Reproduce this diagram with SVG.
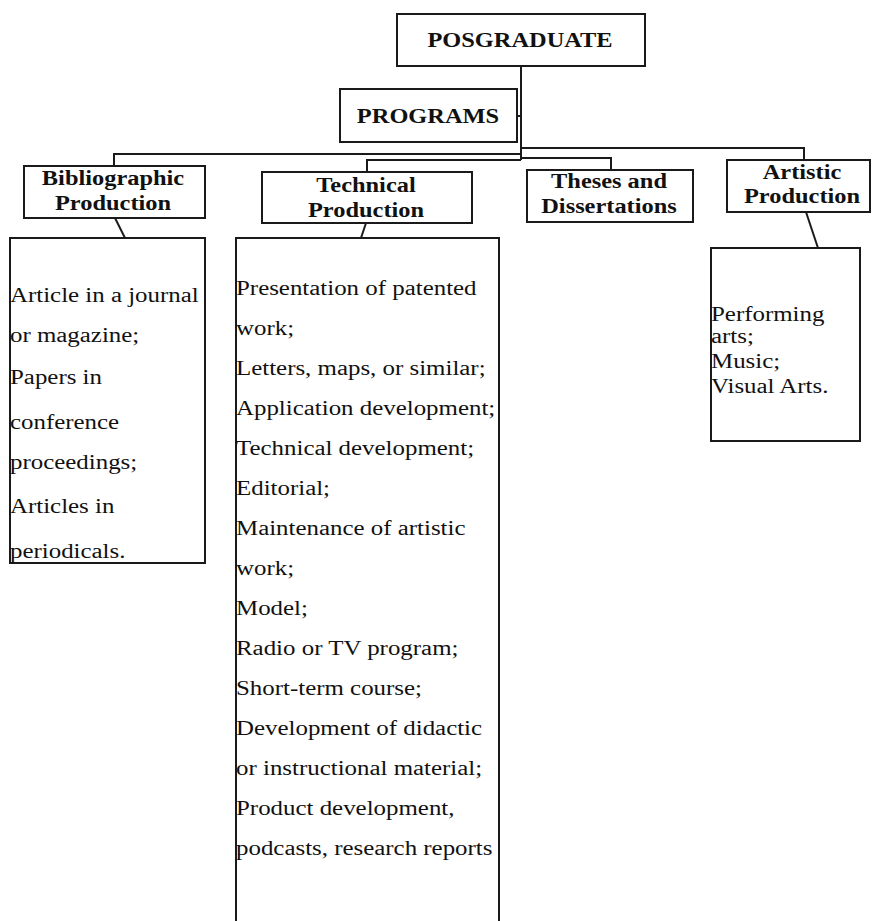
<svg xmlns="http://www.w3.org/2000/svg" width="873" height="921" viewBox="0 0 873 921">
<style>
.box{fill:#fff;stroke:#1a1a1a;stroke-width:2}
.ln{fill:none;stroke:#1a1a1a;stroke-width:2}
.h{font-family:"Liberation Serif","Times New Roman",serif;font-weight:bold;font-size:20px;fill:#111;text-anchor:middle}
.b{font-family:"Liberation Serif","Times New Roman",serif;font-size:20px;fill:#111}
</style>
<rect width="873" height="921" fill="#fff"/>
<g id="connectors">
<polyline class="ln" points="521,66 521,160"/>
<polyline class="ln" points="517,116 521,116"/>
<polyline class="ln" points="521,148 804,148 804,160"/>
<polyline class="ln" points="521,154 114,154 114,166"/>
<polyline class="ln" points="521,158 611,158 611,170"/>
<polyline class="ln" points="521,160 367,160 367,172"/>
<line class="ln" x1="115" y1="218" x2="125" y2="238"/>
<line class="ln" x1="366" y1="223" x2="361" y2="238"/>
<line class="ln" x1="806" y1="212" x2="818" y2="248"/>
</g>
<g id="posgraduate">
<rect class="box" x="397" y="14" width="248" height="52"/>
<g transform="translate(520,0) scale(1.22,1)"><text class="h" x="0" y="47">POSGRADUATE</text></g>
</g>
<g id="programs">
<rect class="box" x="340" y="89" width="177" height="53"/>
<g transform="translate(428,0) scale(1.22,1)"><text class="h" x="0" y="123">PROGRAMS</text></g>
</g>
<g id="bibliographic">
<rect class="box" x="24" y="166" width="181" height="52"/>
<g transform="translate(113,0) scale(1.22,1)"><text class="h" x="0" y="185">Bibliographic</text><text class="h" x="0" y="210">Production</text></g>
</g>
<g id="technical">
<rect class="box" x="262" y="172" width="210" height="51"/>
<g transform="translate(366,0) scale(1.22,1)"><text class="h" x="0" y="192">Technical</text><text class="h" x="0" y="217">Production</text></g>
</g>
<g id="theses">
<rect class="box" x="527" y="170" width="166" height="52"/>
<g transform="translate(609,0) scale(1.22,1)"><text class="h" x="0" y="188">Theses and</text><text class="h" x="0" y="213">Dissertations</text></g>
</g>
<g id="artistic">
<rect class="box" x="727" y="160" width="143" height="52"/>
<g transform="translate(802,0) scale(1.22,1)"><text class="h" x="0" y="179">Artistic</text><text class="h" x="0" y="203">Production</text></g>
</g>
<g id="bibliographic-list">
<rect class="box" x="10" y="238" width="195" height="325"/>
<g transform="translate(10,0) scale(1.245,1)">
<text class="b" x="0" y="302">Article in a journal</text>
<text class="b" x="0" y="342">or magazine;</text>
<text class="b" x="0" y="384">Papers in</text>
<text class="b" x="0" y="429">conference</text>
<text class="b" x="0" y="469">proceedings;</text>
<text class="b" x="0" y="513">Articles in</text>
<text class="b" x="0" y="558">periodicals.</text>
</g>
</g>
<g id="technical-list">
<rect class="box" x="236" y="238" width="263" height="700"/>
<g transform="translate(236,0) scale(1.245,1)">
<text class="b" x="0" y="295">Presentation of patented</text>
<text class="b" x="0" y="335">work;</text>
<text class="b" x="0" y="375">Letters, maps, or similar;</text>
<text class="b" x="0" y="415">Application development;</text>
<text class="b" x="0" y="455">Technical development;</text>
<text class="b" x="0" y="495">Editorial;</text>
<text class="b" x="0" y="535">Maintenance of artistic</text>
<text class="b" x="0" y="575">work;</text>
<text class="b" x="0" y="615">Model;</text>
<text class="b" x="0" y="655">Radio or TV program;</text>
<text class="b" x="0" y="695">Short-term course;</text>
<text class="b" x="0" y="735">Development of didactic</text>
<text class="b" x="0" y="775">or instructional material;</text>
<text class="b" x="0" y="815">Product development,</text>
<text class="b" x="0" y="855">podcasts, research reports</text>
</g>
</g>
<g id="artistic-list">
<rect class="box" x="711" y="248" width="149" height="193"/>
<g transform="translate(711,0) scale(1.245,1)">
<text class="b" x="0" y="321">Performing</text>
<text class="b" x="0" y="343">arts;</text>
<text class="b" x="0" y="368">Music;</text>
<text class="b" x="0" y="393">Visual Arts.</text>
</g>
</g>
</svg>
